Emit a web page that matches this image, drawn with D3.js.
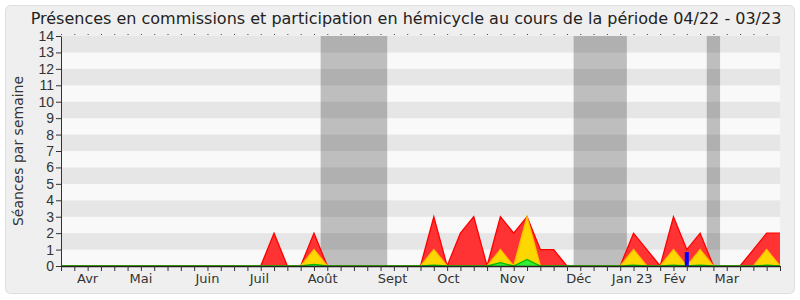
<!DOCTYPE html>
<html>
<head>
<meta charset="utf-8">
<script src="https://cdn.jsdelivr.net/npm/d3@7"></script>
<style>
  body { margin: 0; background: #fff; }
  svg { display: block; font-family: "DejaVu Sans", Verdana, sans-serif; }
</style>
</head>
<body>
<div id="chart"></div>
<script>
// weekly values, week 0 .. 54 (04/22 - 03/23)
const weeks = d3.range(55)
const commissions = [0,0,0,0,0,0,0,0,0,0, 0,0,0,0,0,0,2,0,0,2, 0,0,0,0,0,0,0,0,3,0, 2,3,0,3,2,3,1,1,0,0, 0,0,0,2,1,0,3,1,2,0, 0,0,1,2,2]
const hemicycle   = [0,0,0,0,0,0,0,0,0,0, 0,0,0,0,0,0,0,0,0,1, 0,0,0,0,0,0,0,0,1,0, 0,0,0,1,0,3,0,0,0,0, 0,0,0,1,0,0,1,0,1,0, 0,0,0,1,0]
const interventions = [0,0,0,0,0,0,0,0,0,0, 0,0,0,0,0,0,0,0,0,0.1, 0,0,0,0,0,0,0,0,0.05,0, 0,0,0,0.2,0,0.4,0,0,0,0, 0,0,0,0.05,0,0,0.05,0,0.05,0, 0,0,0,0.05,0]
const questions = [{week: 47, value: 0.85}]
const holidays = [[19.5, 24.5], [38.5, 42.5], [48.5, 49.5]]
const months = ["Avr","Mai","Juin","Juil","Août","Sept","Oct","Nov","Déc","Jan 23","Fév","Mar"]
const monthPos = [2, 6, 11, 14.9, 19.65, 24.9, 29.1, 33.9, 38.9, 42.9, 46.1, 50]

function chart(id){
    const width = 800
    const height = 300
    const margin = {top: 36, right: 20, bottom: 34, left: 61}
    const svg = d3.select("#".concat(id))
        .append("svg")
        .attr("width", width)
        .attr("height", height)

    const x = d3.scaleLinear()
        .domain([0, 54])
        .range([margin.left, width-margin.right])
    const y = d3.scaleLinear()
        .domain([0, 14])
        .range([height-margin.bottom, margin.top])

    // frame
    svg.append("rect")
        .attr("x", 5.5).attr("y", 5.5)
        .attr("width", 789).attr("height", 288)
        .attr("rx", 5)
        .attr("fill", "#efefef")
        .attr("stroke", "#dedede")

    // stripes
    svg.append("g")
        .selectAll("rect")
        .data(d3.range(14))
        .join("rect")
        .attr("x", x(0)+1)
        .attr("width", x(54)-x(0)-1)
        .attr("y", d=>y(d+1))
        .attr("height", d=>y(d)-y(d+1))
        .attr("fill", d=> d%2 ? "#e6e6e6" : "#f9f9f9")

    // holidays
    svg.append("g")
        .selectAll("rect")
        .data(holidays)
        .join("rect")
        .attr("x", d=>x(d[0]))
        .attr("width", d=>x(d[1])-x(d[0]))
        .attr("y", y(14))
        .attr("height", y(0)-y(14))
        .attr("fill", "#000")
        .attr("fill-opacity", 0.235)

    const area = vals => d3.area()
        .x(i=>x(i))
        .y0(y(0))
        .y1(i=>y(vals[i]))(weeks)
    const line = vals => d3.line()
        .x(i=>x(i))
        .y(i=>y(vals[i]))(weeks)

    const series = [
        {vals: commissions, fill: "#ff3333", stroke: "#ff0000"},
        {vals: hemicycle, fill: "#ffd700", stroke: "#ffc000"},
        {vals: interventions, fill: "#33ee33", stroke: "#00bb00"}
    ]
    series.forEach(s => {
        svg.append("path")
            .attr("d", area(s.vals))
            .attr("fill", s.fill)
        svg.append("path")
            .attr("d", line(s.vals))
            .attr("fill", "none")
            .attr("stroke", s.stroke)
            .attr("stroke-width", 1.3)
    })

    svg.append("g")
        .selectAll("rect")
        .data(questions)
        .join("rect")
        .attr("x", d=>x(d.week)-2)
        .attr("width", 4)
        .attr("y", d=>y(d.value))
        .attr("height", d=>y(0)-y(d.value))
        .attr("fill", "#0000ff")

    // axes
    const yAxis = svg.append("g")
        .attr("transform", `translate(${margin.left},0)`)
        .call(d3.axisLeft(y).ticks(14).tickSize(5).tickSizeOuter(0).tickPadding(2))
    yAxis.selectAll("text").style("font-size", "14px").attr("fill", "#333")
    yAxis.selectAll("line, path").attr("stroke", "#333")

    const xAxis = svg.append("g")
        .attr("transform", `translate(0,${y(0)})`)
        .call(d3.axisBottom(x).tickValues(weeks).tickSize(5).tickSizeOuter(0).tickFormat(""))
    xAxis.selectAll("line").attr("stroke", "#333")
    xAxis.select("path").attr("stroke", "#222").attr("stroke-width", 1.5)

    const topDots = svg.append("g")
        .attr("transform", `translate(0,${y(14)-1})`)
        .call(d3.axisTop(x).tickValues(weeks.slice(0, 54)).tickSize(1).tickFormat(""))
    topDots.select("path").remove()
    topDots.selectAll("line").attr("stroke", "#444")

    svg.append("g")
        .selectAll("text")
        .data(months)
        .join("text")
        .attr("x", (d,i)=>x(monthPos[i]))
        .attr("y", 283)
        .attr("text-anchor", "middle")
        .style("font-size", "13px")
        .attr("fill", "#333")
        .text(d=>d)

    svg.append("text")
        .attr("transform", `translate(23,${(y(0)+y(14))/2}) rotate(-90)`)
        .attr("text-anchor", "middle")
        .style("font-size", "14px")
        .attr("fill", "#333")
        .text("Séances par semaine")

    svg.append("text")
        .attr("x", 406)
        .attr("y", 24)
        .attr("text-anchor", "middle")
        .style("font-size", "16px")
        .attr("fill", "#222")
        .text("Présences en commissions et participation en hémicycle au cours de la période 04/22 - 03/23")
}

chart("chart")
</script>
</body>
</html>
